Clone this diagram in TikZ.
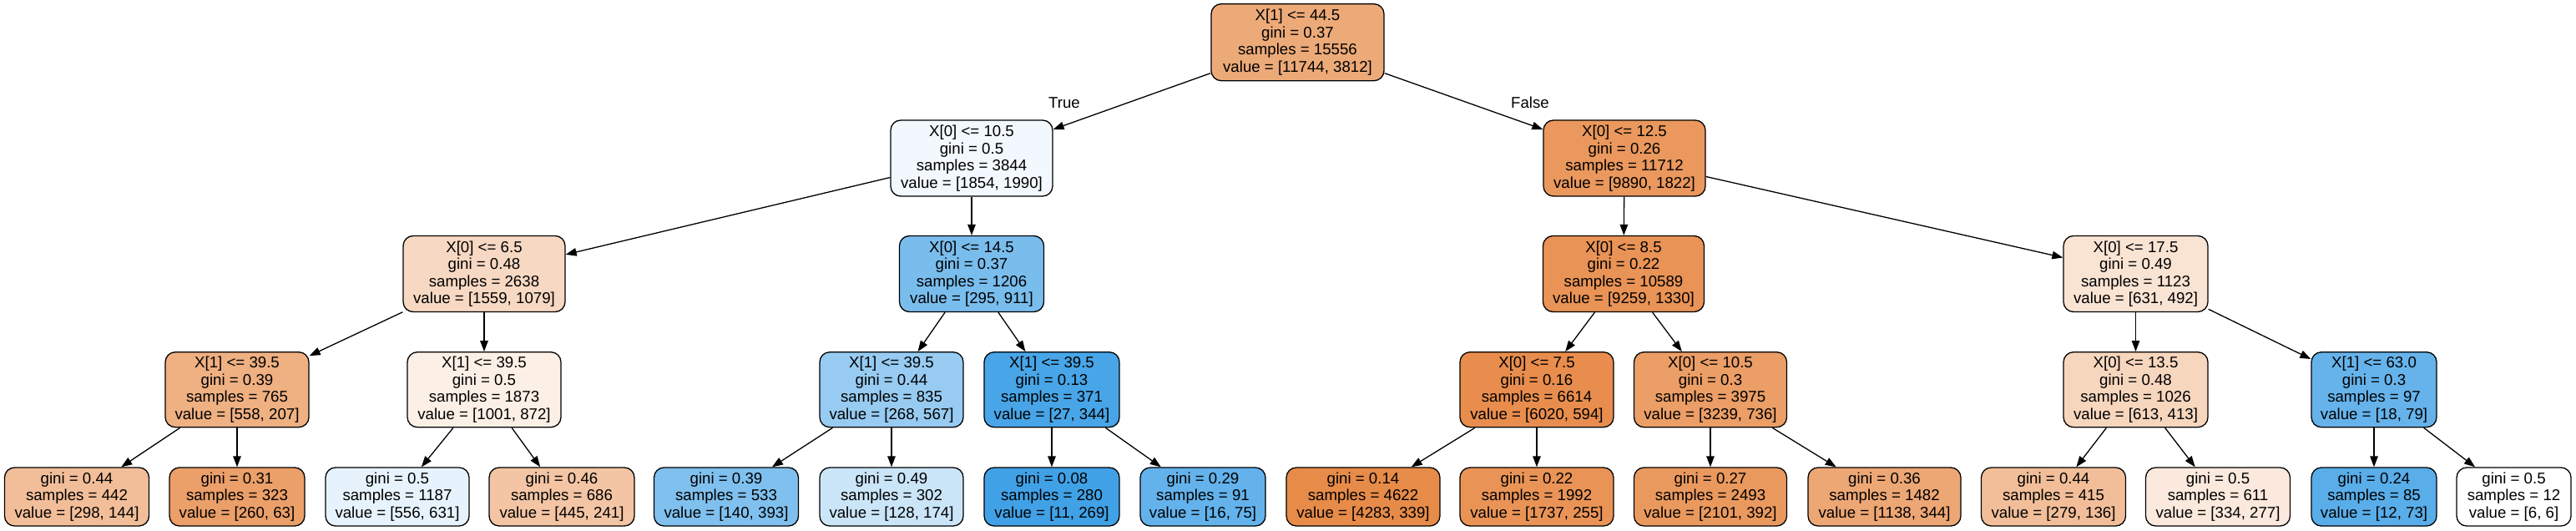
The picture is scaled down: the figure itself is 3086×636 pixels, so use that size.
\documentclass[tikz,border=0pt]{standalone}
\usepackage{fontspec}
\setmainfont{Liberation Sans}
\usetikzlibrary{arrows.meta}
\definecolor{cO}{RGB}{229,129,57}
\definecolor{cB}{RGB}{57,157,229}
\begin{document}
\begin{tikzpicture}[x=1pt,y=-1pt,
  tn/.style={draw=black, line width=1.3pt, rounded corners=12pt, align=center, inner sep=0pt,
             font=\fontsize{18.67}{20.5}\selectfont, minimum height=91pt},
  lf/.style={tn, minimum height=70pt},
  ed/.style={-{Triangle[length=13pt,width=9.5pt]}, line width=1.3pt},
  lb/.style={font=\fontsize{18.67}{20.5}\selectfont, inner sep=0pt}]
\useasboundingbox (0,0) rectangle (3086,636);
% level 0
\node[tn, minimum width=207pt, minimum height=92pt, fill=cO!67.5!white] (r) at (1554.5,50.7) {X[1] <= 44.5\\gini = 0.37\\samples = 15556\\value = [11744, 3812]};
% level 1
\node[tn, minimum width=194pt, fill=cB!6.8!white] (a) at (1164,189.5) {X[0] <= 10.5\\gini = 0.5\\samples = 3844\\value = [1854, 1990]};
\node[tn, minimum width=194pt, fill=cO!81.6!white] (b) at (1946,189.5) {X[0] <= 12.5\\gini = 0.26\\samples = 11712\\value = [9890, 1822]};
% level 2
\node[tn, minimum width=194pt, fill=cO!30.8!white] (aa) at (580,328) {X[0] <= 6.5\\gini = 0.48\\samples = 2638\\value = [1559, 1079]};
\node[tn, minimum width=173pt, fill=cB!67.6!white] (ab) at (1164,328) {X[0] <= 14.5\\gini = 0.37\\samples = 1206\\value = [295, 911]};
\node[tn, minimum width=193pt, fill=cO!85.6!white] (ba) at (1945,328) {X[0] <= 8.5\\gini = 0.22\\samples = 10589\\value = [9259, 1330]};
\node[tn, minimum width=173pt, fill=cO!22!white] (bb) at (2558.5,328) {X[0] <= 17.5\\gini = 0.49\\samples = 1123\\value = [631, 492]};
% level 3
\node[tn, minimum width=172pt, minimum height=90pt, fill=cO!62.9!white] (aaa) at (284,466.7) {X[1] <= 39.5\\gini = 0.39\\samples = 765\\value = [558, 207]};
\node[tn, minimum width=184pt, minimum height=90pt, fill=cO!12.9!white] (aab) at (580,466.7) {X[1] <= 39.5\\gini = 0.5\\samples = 1873\\value = [1001, 872]};
\node[tn, minimum width=172pt, minimum height=90pt, fill=cB!52.7!white] (aba) at (1068,466.7) {X[1] <= 39.5\\gini = 0.44\\samples = 835\\value = [268, 567]};
\node[tn, minimum width=162pt, minimum height=90pt, fill=cB!92.2!white] (abb) at (1260,466.7) {X[1] <= 39.5\\gini = 0.13\\samples = 371\\value = [27, 344]};
\node[tn, minimum width=184pt, minimum height=90pt, fill=cO!90.1!white] (baa) at (1841,466.7) {X[0] <= 7.5\\gini = 0.16\\samples = 6614\\value = [6020, 594]};
\node[tn, minimum width=183pt, minimum height=90pt, fill=cO!77.3!white] (bab) at (2049,466.7) {X[0] <= 10.5\\gini = 0.3\\samples = 3975\\value = [3239, 736]};
\node[tn, minimum width=173pt, minimum height=90pt, fill=cO!32.6!white] (bba) at (2558.5,466.7) {X[0] <= 13.5\\gini = 0.48\\samples = 1026\\value = [613, 413]};
\node[tn, minimum width=150pt, minimum height=90pt, fill=cB!77.2!white] (bbb) at (2844,466.7) {X[1] <= 63.0\\gini = 0.3\\samples = 97\\value = [18, 79]};
% leaves
\node[lf, minimum width=173pt, fill=cO!51.7!white] (l1) at (92,595) {gini = 0.44\\samples = 442\\value = [298, 144]};
\node[lf, minimum width=162pt, fill=cO!75.8!white] (l2) at (284,595) {gini = 0.31\\samples = 323\\value = [260, 63]};
\node[lf, minimum width=172pt, fill=cB!11.9!white] (l3) at (476,595) {gini = 0.5\\samples = 1187\\value = [556, 631]};
\node[lf, minimum width=174pt, fill=cO!45.8!white] (l4) at (673,595) {gini = 0.46\\samples = 686\\value = [445, 241]};
\node[lf, minimum width=173pt, fill=cB!64.4!white] (l5) at (870,595) {gini = 0.39\\samples = 533\\value = [140, 393]};
\node[lf, minimum width=172pt, fill=cB!26.4!white] (l6) at (1068,595) {gini = 0.49\\samples = 302\\value = [128, 174]};
\node[lf, minimum width=162pt, fill=cB!95.9!white] (l7) at (1260,595) {gini = 0.08\\samples = 280\\value = [11, 269]};
\node[lf, minimum width=150pt, fill=cB!78.7!white] (l8) at (1441,595) {gini = 0.29\\samples = 91\\value = [16, 75]};
\node[lf, minimum width=184pt, fill=cO!92.1!white] (l9) at (1633,595) {gini = 0.14\\samples = 4622\\value = [4283, 339]};
\node[lf, minimum width=184pt, fill=cO!85.3!white] (l10) at (1841,595) {gini = 0.22\\samples = 1992\\value = [1737, 255]};
\node[lf, minimum width=183pt, fill=cO!81.3!white] (l11) at (2049,595) {gini = 0.27\\samples = 2493\\value = [2101, 392]};
\node[lf, minimum width=183pt, fill=cO!69.8!white] (l12) at (2257.5,595) {gini = 0.36\\samples = 1482\\value = [1138, 344]};
\node[lf, minimum width=173pt, fill=cO!51.3!white] (l13) at (2460,595) {gini = 0.44\\samples = 415\\value = [279, 136]};
\node[lf, minimum width=173pt, fill=cO!17.1!white] (l14) at (2657,595) {gini = 0.5\\samples = 611\\value = [334, 277]};
\node[lf, minimum width=150pt, fill=cB!83.6!white] (l15) at (2844,595) {gini = 0.24\\samples = 85\\value = [12, 73]};
\node[lf, minimum width=137pt, fill=white] (l16) at (3011.5,595) {gini = 0.5\\samples = 12\\value = [6, 6]};
% edges
\draw[ed] (r) -- (a);
\draw[ed] (r) -- (b);
\draw[ed] (a) -- (aa);
\draw[ed] (a) -- (ab);
\draw[ed] (b) -- (ba);
\draw[ed] (b) -- (bb);
\draw[ed] (aa) -- (aaa);
\draw[ed] (aa) -- (aab);
\draw[ed] (ab) -- (aba);
\draw[ed] (ab) -- (abb);
\draw[ed] (ba) -- (baa);
\draw[ed] (ba) -- (bab);
\draw[ed] (bb) -- (bba);
\draw[ed] (bb) -- (bbb);
\draw[ed] (aaa) -- (l1);
\draw[ed] (aaa) -- (l2);
\draw[ed] (aab) -- (l3);
\draw[ed] (aab) -- (l4);
\draw[ed] (aba) -- (l5);
\draw[ed] (aba) -- (l6);
\draw[ed] (abb) -- (l7);
\draw[ed] (abb) -- (l8);
\draw[ed] (baa) -- (l9);
\draw[ed] (baa) -- (l10);
\draw[ed] (bab) -- (l11);
\draw[ed] (bab) -- (l12);
\draw[ed] (bba) -- (l13);
\draw[ed] (bba) -- (l14);
\draw[ed] (bbb) -- (l15);
\draw[ed] (bbb) -- (l16);
% edge labels
\node[lb] (tlab) at (1275,123) {True};
\node[lb] (flab) at (1833,123) {False};
\end{tikzpicture}
\end{document}
